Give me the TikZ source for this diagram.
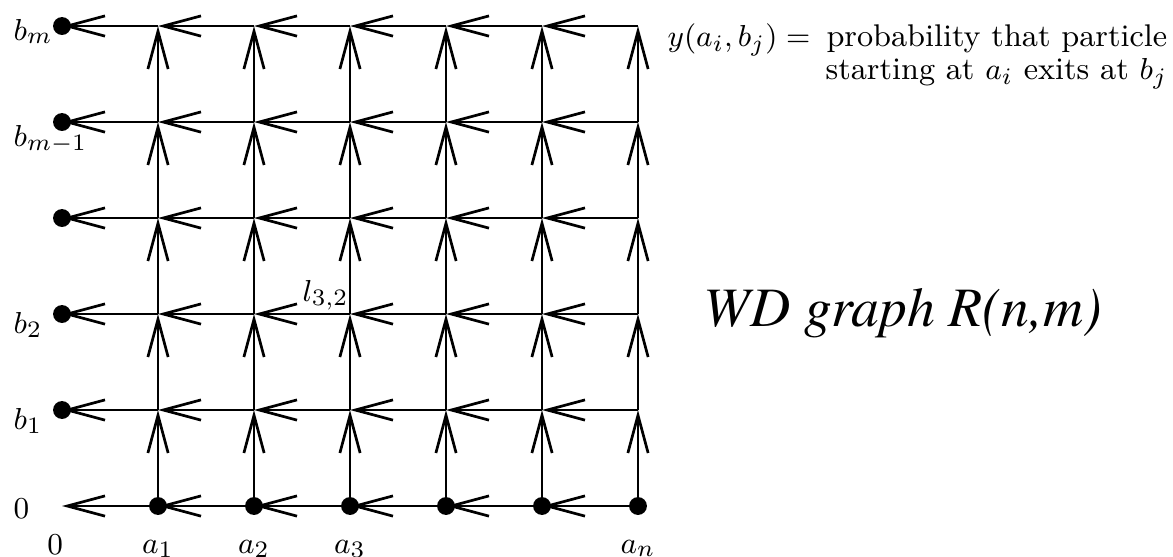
\documentclass[tikz,border=0pt]{standalone}
\usepackage{fontspec}
\IfFontExistsTF{texgyretermes-italic.otf}
  {\newfontfamily\titlefont{texgyretermes-italic.otf}}
  {\IfFontExistsTF{LiberationSerif-Italic.ttf}
    {\newfontfamily\titlefont{LiberationSerif-Italic.ttf}}
    {\newcommand\titlefont{\rmfamily\itshape}}}
\usetikzlibrary{arrows.meta}

\begin{document}
\begin{tikzpicture}[
  x=1cm,y=1cm,
  dot/.style={circle,fill,inner sep=0pt,minimum size=5.3pt},
  edge/.style={line width=0.8pt,-{Straight Barb[length=11.2pt,width=6pt]}},
  lab/.style={font=\fontsize{9.5}{11}\selectfont,inner sep=0pt},
  note/.style={font=\fontsize{9.3}{11}\selectfont,inner sep=0pt}
]
\useasboundingbox (-0.646,-0.531) rectangle (11.573,5.271);
% grid points
\foreach \i in {0,...,6}
  \foreach \j in {0,...,5}
    \coordinate (g-\i-\j) at (\i,\j);
% horizontal edges, pointing left
\foreach \i [count=\k from 1] in {0,...,5}
  \foreach \j in {0,...,5}
    \draw[edge] (g-\k-\j) -- (g-\i-\j);
% vertical edges, pointing up
\foreach \i in {1,...,6}
  \foreach \j [count=\k from 1] in {0,...,4}
    \draw[edge] (g-\i-\j) -- (g-\i-\k);
% sources and sinks
\foreach \j in {1,...,5}
  \node[dot] (b-\j) at (g-0-\j) {};
\foreach \i in {1,...,6}
  \node[dot] (a-\i) at (g-\i-0) {};
% labels
\node[lab,anchor=base west] (lbm) at (-0.51,4.85) {$b_m$};
\node[lab,anchor=base west] (lbm1) at (-0.51,3.75) {$b_{m-1}$};
\node[lab,anchor=base west] (lb2) at (-0.51,1.8) {$b_2$};
\node[lab,anchor=base west] (lb1) at (-0.51,0.8) {$b_1$};
\node[lab,anchor=base west] (lzero) at (-0.51,-0.125) {$0$};
\node[lab,anchor=base] (xzero) at (-0.07,-0.5) {$0$};
\node[lab,anchor=base] (xa1) at (1,-0.49) {$a_1$};
\node[lab,anchor=base] (xa2) at (2,-0.49) {$a_2$};
\node[lab,anchor=base] (xa3) at (3,-0.49) {$a_3$};
\node[lab,anchor=base] (xan) at (6,-0.49) {$a_n$};
\node[lab,anchor=base west] (l32) at (2.5,2.135) {$l_{3,2}$};
% right-hand texts
\node[note,anchor=base east] (ydef) at (11.52,4.79)
  {$y(a_i,b_j) =$\ \,probability that particle};
\node[note,anchor=base east] (ydef2) at (11.52,4.44)
  {starting at $a_i$ exits at $b_j$};
\node[anchor=base west,inner sep=0pt,
  font=\fontsize{16.5}{20}\selectfont\titlefont] (title) at (6.68,1.865)
  {WD graph R(n,m)};
\end{tikzpicture}
\end{document}
